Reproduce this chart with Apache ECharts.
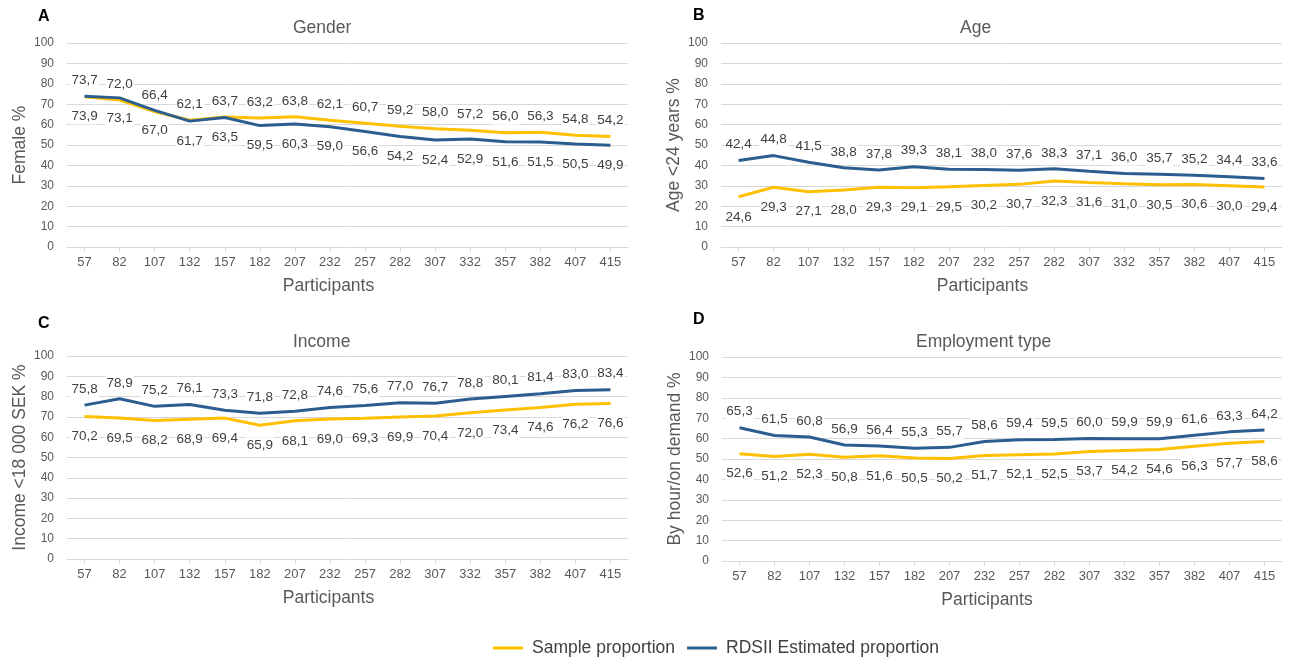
<!DOCTYPE html>
<html>
<head>
<meta charset="utf-8">
<script src="https://cdn.jsdelivr.net/npm/echarts@6/dist/echarts.min.js"></script>
<style>
  html, body { margin: 0; padding: 0; background: #fff; }
  #chart { width: 1290px; height: 657px; }
</style>
</head>
<body>
<div id="chart"></div>
<script>
// Participants recruited at each wave
const categories = ['57', '82', '107', '132', '157', '182', '207', '232', '257', '282', '307', '332', '357', '382', '407', '415'];

// A – Gender (female %)
const genderSample = [73.7, 72.0, 66.4, 62.1, 63.7, 63.2, 63.8, 62.1, 60.7, 59.2, 58.0, 57.2, 56.0, 56.3, 54.8, 54.2];
const genderRds    = [73.9, 73.1, 67.0, 61.7, 63.5, 59.5, 60.3, 59.0, 56.6, 54.2, 52.4, 52.9, 51.6, 51.5, 50.5, 49.9];

// B – Age (<24 years %)
const ageSample = [24.6, 29.3, 27.1, 28.0, 29.3, 29.1, 29.5, 30.2, 30.7, 32.3, 31.6, 31.0, 30.5, 30.6, 30.0, 29.4];
const ageRds    = [42.4, 44.8, 41.5, 38.8, 37.8, 39.3, 38.1, 38.0, 37.6, 38.3, 37.1, 36.0, 35.7, 35.2, 34.4, 33.6];

// C – Income (<18 000 SEK %)
const incomeSample = [70.2, 69.5, 68.2, 68.9, 69.4, 65.9, 68.1, 69.0, 69.3, 69.9, 70.4, 72.0, 73.4, 74.6, 76.2, 76.6];
const incomeRds    = [75.8, 78.9, 75.2, 76.1, 73.3, 71.8, 72.8, 74.6, 75.6, 77.0, 76.7, 78.8, 80.1, 81.4, 83.0, 83.4];

// D – Employment type (by hour / on demand %)
const employSample = [52.6, 51.2, 52.3, 50.8, 51.6, 50.5, 50.2, 51.7, 52.1, 52.5, 53.7, 54.2, 54.6, 56.3, 57.7, 58.6];
const employRds    = [65.3, 61.5, 60.8, 56.9, 56.4, 55.3, 55.7, 58.6, 59.4, 59.5, 60.0, 59.9, 59.9, 61.6, 63.3, 64.2];

const seriesNames = ['Sample proportion', 'RDSII Estimated proportion'];
const panelLetters = ['A', 'B', 'C', 'D'];
const panelTitles = ['Gender', 'Age', 'Income', 'Employment type'];
const yAxisNames = ['Female %', 'Age <24 years %', 'Income <18 000 SEK %', 'By hour/on demand %'];
const xAxisName = 'Participants';
const yMin = 0, yMax = 100, yStep = 10;

const FONT = "'Liberation Sans', Arial, sans-serif";
const TEXT = '#595959';
const GRID_LINE = '#D9D9D9';
const YELLOW = '#FFC000';
const BLUE = '#2C5D8F';

// panel geometry: plot areas and text anchors
const layout = [
  { left: 67,  top: 43,  width: 561, height: 204, titleX: 293, titleY: 19,  letterX: 38,  letterY: 9,   xNameShift: 38 },
  { left: 721, top: 43,  width: 561, height: 204, titleX: 960, titleY: 19,  letterX: 693, letterY: 8,   xNameShift: 38 },
  { left: 67,  top: 356, width: 561, height: 203, titleX: 293, titleY: 333, letterX: 38,  letterY: 316, xNameShift: 38 },
  { left: 722, top: 357, width: 560, height: 204, titleX: 916, titleY: 333, letterX: 693, letterY: 312, xNameShift: 30 }
];

const panelData = [
  { sample: genderSample, rds: genderRds, sampleAbove: true },
  { sample: ageSample,    rds: ageRds,    sampleAbove: false },
  { sample: incomeSample, rds: incomeRds, sampleAbove: false },
  { sample: employSample, rds: employRds, sampleAbove: false }
];

const fmt = p => p.value.toFixed(1).replace('.', ',');

function dataLabel(above) {
  return {
    show: true,
    position: above ? 'top' : 'bottom',
    distance: above ? 8 : 12,
    formatter: fmt,
    color: '#404040',
    fontFamily: FONT,
    fontSize: 13.5,
    backgroundColor: '#fff',
    padding: [1, 1]
  };
}

const grids = [], xAxes = [], yAxes = [], series = [], titles = [];

layout.forEach((g, i) => {
  grids.push({ left: g.left, top: g.top, width: g.width, height: g.height, containLabel: false });

  xAxes.push({
    type: 'category',
    gridIndex: i,
    data: categories,
    boundaryGap: true,
    name: xAxisName,
    nameLocation: 'middle',
    nameGap: 30,
    nameTextStyle: { fontFamily: FONT, fontSize: 17.5, color: TEXT, padding: [0, g.xNameShift, 0, 0] },
    axisLine: { lineStyle: { color: GRID_LINE, width: 1 } },
    axisTick: { show: true, alignWithLabel: true, length: 5, lineStyle: { color: GRID_LINE } },
    axisLabel: { fontFamily: FONT, fontSize: 13, color: TEXT, margin: 9 },
    splitLine: { show: false }
  });

  yAxes.push({
    type: 'value',
    gridIndex: i,
    min: yMin, max: yMax, interval: yStep,
    name: yAxisNames[i],
    nameLocation: 'middle',
    nameRotate: 90,
    nameGap: 38,
    nameTextStyle: { fontFamily: FONT, fontSize: 17.5, color: TEXT },
    axisLine: { show: false },
    axisTick: { show: false },
    axisLabel: { fontFamily: FONT, fontSize: 12, color: TEXT, margin: 13 },
    splitLine: { lineStyle: { color: GRID_LINE, width: 1 } }
  });

  const d = panelData[i];
  // tiny invisible symbols carry the value labels
  const common = { type: 'line', xAxisIndex: i, yAxisIndex: i, symbol: 'circle', symbolSize: 0.1, showSymbol: true, smooth: false };
  series.push(Object.assign({}, common, {
    name: seriesNames[0], data: d.sample,
    lineStyle: { color: YELLOW, width: 3 }, itemStyle: { color: YELLOW },
    label: dataLabel(d.sampleAbove), z: 2
  }));
  series.push(Object.assign({}, common, {
    name: seriesNames[1], data: d.rds,
    lineStyle: { color: BLUE, width: 3 }, itemStyle: { color: BLUE },
    label: dataLabel(!d.sampleAbove), z: 3
  }));

  titles.push({
    text: panelTitles[i], left: g.titleX, top: g.titleY, padding: 0,
    textStyle: { fontFamily: FONT, fontSize: 17.5, fontWeight: 'normal', color: TEXT }
  });
  titles.push({
    text: panelLetters[i], left: g.letterX, top: g.letterY, padding: 0,
    textStyle: { fontFamily: FONT, fontSize: 16, fontWeight: 'bold', color: '#000' }
  });
});

const chart = echarts.init(document.getElementById('chart'), null, { renderer: 'canvas' });
chart.setOption({
  animation: false,
  backgroundColor: '#fff',
  title: titles,
  grid: grids,
  xAxis: xAxes,
  yAxis: yAxes,
  legend: {
    data: seriesNames,
    icon: 'rect',
    left: 488,
    top: 634,
    itemWidth: 30,
    itemHeight: 3,
    itemGap: 12,
    textStyle: { fontFamily: FONT, fontSize: 17.5, color: '#404040', padding: [0, 0, 0, 4] }
  },
  series: series
});
</script>
</body>
</html>
